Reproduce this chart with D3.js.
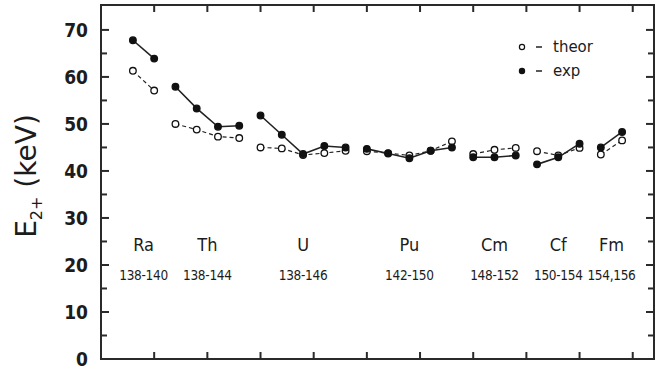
<!DOCTYPE html>
<html>
<head>
<meta charset="utf-8">
<script src="https://cdn.jsdelivr.net/npm/d3@7"></script>
<style>
  body { margin: 0; background: #fff; }
  text { fill: #1c1c1c; }
</style>
</head>
<body>
<div id="container"></div>
<script>
var width = 660;
var height = 372;
var margin = { top: 5, right: 6, bottom: 13, left: 101 };

// nuclei groups, in plot order
var elements = ["Ra", "Th", "U", "Pu", "Cm", "Cf", "Fm"];
var ranges = ["138-140", "138-144", "138-146", "142-150", "148-152", "150-154", "154,156"];
var groupSizes = [2, 4, 5, 5, 3, 3, 2];

// E(2+) in keV, one value per nucleus in each group
var theor = [
  [61.3, 57.1],
  [50.0, 48.8, 47.3, 47.0],
  [45.0, 44.8, 43.4, 43.8, 44.3],
  [44.2, 43.8, 43.3, 44.3, 46.3],
  [43.6, 44.5, 44.9],
  [44.2, 43.3, 44.9],
  [43.5, 46.5]
];
var expt = [
  [67.8, 63.9],
  [57.9, 53.3, 49.4, 49.6],
  [51.8, 47.7, 43.6, 45.3, 45.0],
  [44.7, 43.7, 42.7, 44.3, 45.0],
  [42.9, 42.9, 43.3],
  [41.4, 42.9, 45.8],
  [45.0, 48.3]
];
var yTicks = [0, 10, 20, 30, 40, 50, 60, 70];

var svg = d3
  .select("div#container")
  .append("svg")
  .attr("width", width)
  .attr("height", height);

var x = d3.scaleLinear().domain([0, 26]).range([margin.left, width - margin.right]);
var y = d3.scaleLinear().domain([0, 75.3]).range([height - margin.bottom, margin.top]);

// slot index of each point: 24 slots, first at 1.5
var starts = [];
var acc = 0;
groupSizes.forEach(function (n) { starts.push(acc); acc += n; });

function pts(series) {
  return series.map(function (g, gi) {
    return g.map(function (v, j) { return { x: starts[gi] + j + 1.5, v: v }; });
  });
}

var line = d3.line().x(d => x(d.x)).y(d => y(d.v));

// frame and ticks
var x0 = x.range()[0], x1 = x.range()[1], y0 = y.range()[0], y1 = y.range()[1];
svg.append("rect")
  .attr("x", x0).attr("y", y1)
  .attr("width", x1 - x0).attr("height", y0 - y1)
  .attr("fill", "none").attr("stroke", "#2a2a2a").attr("stroke-width", 2);

var minorY = d3.range(5, 75, 10);
var ticksG = svg.append("g").attr("stroke", "#2a2a2a").attr("stroke-width", 2);
yTicks.concat(minorY).forEach(function (t) {
  if (t === 0) return;
  var len = t % 10 === 0 ? 8 : 6;
  ticksG.append("line").attr("x1", x0).attr("x2", x0 + len).attr("y1", y(t)).attr("y2", y(t));
  ticksG.append("line").attr("x1", x1).attr("x2", x1 - len).attr("y1", y(t)).attr("y2", y(t));
});
d3.range(2.5, 26, 2.5).forEach(function (t) {
  ticksG.append("line").attr("x1", x(t)).attr("x2", x(t)).attr("y1", y1).attr("y2", y1 + 7);
  ticksG.append("line").attr("x1", x(t)).attr("x2", x(t)).attr("y1", y0).attr("y2", y0 - 7);
});

svg.append("g")
  .selectAll("text")
  .data(yTicks)
  .enter()
  .append("text")
  .attr("x", x0 - 13)
  .attr("y", d => y(d))
  .attr("dy", "0.36em")
  .attr("text-anchor", "end")
  .style("font-family", "'DejaVu Sans Condensed', 'Liberation Sans Narrow', sans-serif")
  .style("font-size", "19px")
  .style("font-weight", "600")
  .text(d => d);

// axis title
var title = svg.append("text")
  .attr("transform", "translate(36," + 176 + ") rotate(-90)")
  .attr("text-anchor", "middle")
  .style("font-family", "'DejaVu Sans', sans-serif")
  .style("font-size", "28px");
title.append("tspan").text("E");
title.append("tspan").attr("dy", 6).style("font-size", "16px").text("2+");
title.append("tspan").attr("dy", -6).text("  (keV)");

// series
function drawSeries(series, filled, dash) {
  var groups = pts(series);
  var g = svg.append("g");
  g.selectAll("path")
    .data(groups)
    .enter()
    .append("path")
    .attr("d", line)
    .attr("fill", "none")
    .attr("stroke", "#222")
    .attr("stroke-width", filled ? 1.6 : 1.2)
    .attr("stroke-dasharray", dash);
  g.selectAll("circle")
    .data(groups.flat())
    .enter()
    .append("circle")
    .attr("cx", d => x(d.x))
    .attr("cy", d => y(d.v))
    .attr("r", 3.3)
    .attr("fill", filled ? "#111" : "#fff")
    .attr("stroke", "#111")
    .attr("stroke-width", 1.3);
}
drawSeries(theor, false, "4,3");
drawSeries(expt, true, null);

// group labels
var labelFont = "'DejaVu Sans Condensed', 'Liberation Sans Narrow', sans-serif";
var centers = groupSizes.map((n, i) => x(starts[i] + 1.5 + (n - 1) / 2));
svg.append("g")
  .selectAll("text")
  .data(elements)
  .enter()
  .append("text")
  .attr("x", (d, i) => centers[i])
  .attr("y", 251)
  .attr("text-anchor", "middle")
  .style("font-family", labelFont)
  .style("font-size", "18px")
  .text(d => d);
svg.append("g")
  .selectAll("text")
  .data(ranges)
  .enter()
  .append("text")
  .attr("x", (d, i) => centers[i])
  .attr("y", 280)
  .attr("text-anchor", "middle")
  .style("font-family", labelFont)
  .style("font-size", "13.5px")
  .style("letter-spacing", "-0.3px")
  .text(d => d);

// legend
var legend = svg.append("g").style("font-family", "'DejaVu Sans', sans-serif").style("font-size", "15px");
[["theor", false, 47], ["exp", true, 71]].forEach(function (l) {
  legend.append("circle").attr("cx", 522).attr("cy", l[2]).attr("r", 2.6)
    .attr("fill", l[1] ? "#111" : "#fff").attr("stroke", "#111").attr("stroke-width", 1.2);
  legend.append("line").attr("x1", 536).attr("x2", 542).attr("y1", l[2]).attr("y2", l[2])
    .attr("stroke", "#222").attr("stroke-width", 1.5);
  legend.append("text").attr("x", 553).attr("y", l[2]).attr("dy", "0.36em").text(l[0]);
});
</script>
</body>
</html>
